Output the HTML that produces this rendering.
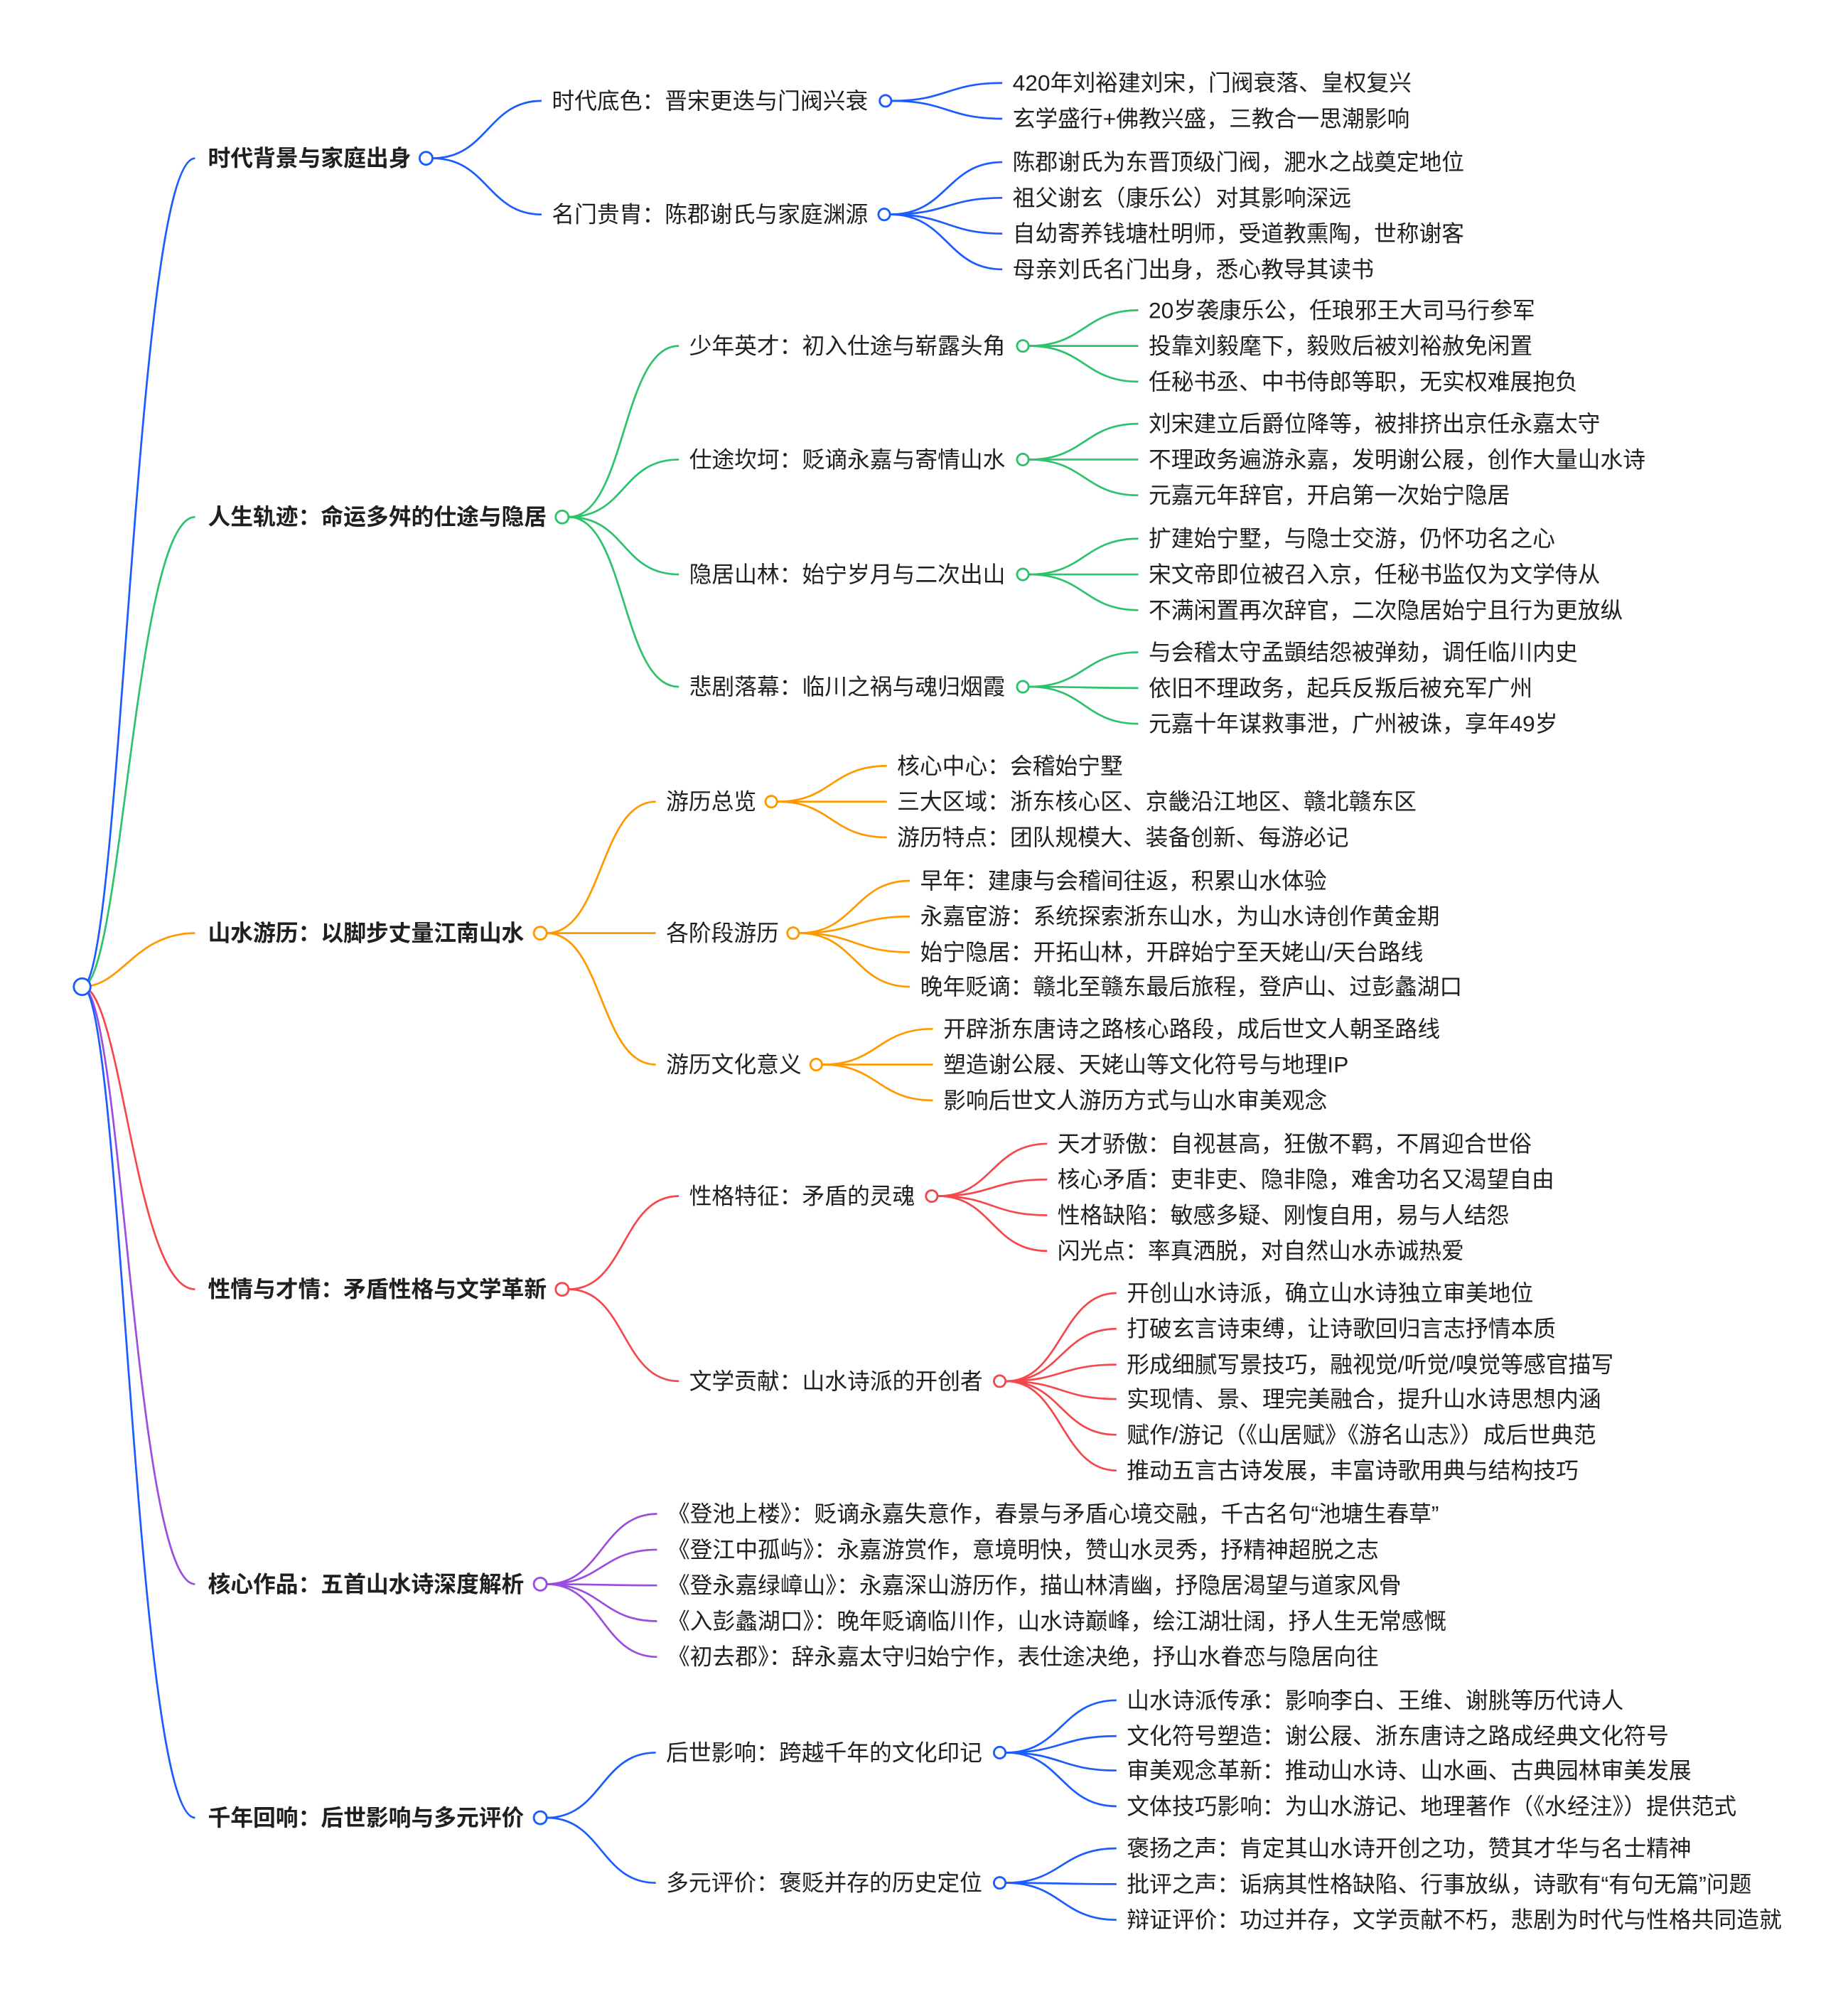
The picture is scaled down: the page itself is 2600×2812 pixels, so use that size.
<!DOCTYPE html>
<html><head><meta charset="utf-8"><style>
html,body{margin:0;padding:0;background:#fff;}
svg{display:block}
text{font-family:"Liberation Sans","Noto Sans CJK SC",sans-serif;font-size:17.6px;fill:#1f1f1f;dominant-baseline:central}
.b{font-weight:bold}
path{fill:none;stroke-width:1.5}
circle{fill:#fff;stroke-width:1.6}
</style></head><body>
<svg width="2600" height="2812" viewBox="0 0 1440 1566" preserveAspectRatio="none" xmlns="http://www.w3.org/2000/svg">
<path stroke="#1a5cff" d="M64 773 C95 773,105 124,152 124"/>
<path stroke="#2dc26b" d="M64 773 C95 773,105 405,152 405"/>
<path stroke="#ff9900" d="M64 773 C95 773,105 731,152 731"/>
<path stroke="#f5484d" d="M64 773 C95 773,105 1010,152 1010"/>
<path stroke="#9b4de0" d="M64 773 C95 773,105 1241,152 1241"/>
<path stroke="#1a5cff" d="M64 773 C95 773,105 1424,152 1424"/>
<circle cx="64" cy="773" r="6.5" stroke="#1a5cff"/>

<g stroke="#1a5cff">
<path d="M337 124 C380 124,380 79,422 79"/>
<path d="M337 124 C380 124,380 168,422 168"/>
<path d="M695 79 C738 79,738 65,781 65"/>
<path d="M695 79 C738 79,738 93,781 93"/>
<path d="M694 168 C738 168,738 127,781 127"/>
<path d="M694 168 C738 168,738 155,781 155"/>
<path d="M694 168 C738 168,738 183,781 183"/>
<path d="M694 168 C738 168,738 211,781 211"/>
</g>
<circle cx="332" cy="124" r="5" stroke="#1a5cff"/>
<circle cx="690" cy="79" r="4.5" stroke="#1a5cff"/>
<circle cx="689" cy="168" r="4.5" stroke="#1a5cff"/>
<text x="162" y="124" class="b">时代背景与家庭出身</text>
<text x="430" y="79">时代底色：晋宋更迭与门阀兴衰</text>
<text x="430" y="168">名门贵胄：陈郡谢氏与家庭渊源</text>
<text x="789" y="65">420年刘裕建刘宋，门阀衰落、皇权复兴</text>
<text x="789" y="93">玄学盛行+佛教兴盛，三教合一思潮影响</text>
<text x="789" y="127">陈郡谢氏为东晋顶级门阀，淝水之战奠定地位</text>
<text x="789" y="155">祖父谢玄（康乐公）对其影响深远</text>
<text x="789" y="183">自幼寄养钱塘杜明师，受道教熏陶，世称谢客</text>
<text x="789" y="211">母亲刘氏名门出身，悉心教导其读书</text>

<g stroke="#2dc26b">
<path d="M443 405 C488 405,484 271,529 271"/>
<path d="M443 405 C488 405,484 360,529 360"/>
<path d="M443 405 C488 405,484 450,529 450"/>
<path d="M443 405 C488 405,484 538,529 538"/>
<path d="M802 271 C845 271,845 243,887 243"/>
<path d="M802 271 C845 271,845 271,887 271"/>
<path d="M802 271 C845 271,845 299,887 299"/>
<path d="M802 360 C845 360,845 332,887 332"/>
<path d="M802 360 C845 360,845 360,887 360"/>
<path d="M802 360 C845 360,845 388,887 388"/>
<path d="M802 450 C845 450,845 422,887 422"/>
<path d="M802 450 C845 450,845 450,887 450"/>
<path d="M802 450 C845 450,845 478,887 478"/>
<path d="M802 538 C845 538,845 511,887 511"/>
<path d="M802 538 C845 538,845 539,887 539"/>
<path d="M802 538 C845 538,845 567,887 567"/>
</g>
<circle cx="438" cy="405" r="5" stroke="#2dc26b"/>
<circle cx="797" cy="271" r="4.5" stroke="#2dc26b"/>
<circle cx="797" cy="360" r="4.5" stroke="#2dc26b"/>
<circle cx="797" cy="450" r="4.5" stroke="#2dc26b"/>
<circle cx="797" cy="538" r="4.5" stroke="#2dc26b"/>
<text x="162" y="405" class="b">人生轨迹：命运多舛的仕途与隐居</text>
<text x="537" y="271">少年英才：初入仕途与崭露头角</text>
<text x="537" y="360">仕途坎坷：贬谪永嘉与寄情山水</text>
<text x="537" y="450">隐居山林：始宁岁月与二次出山</text>
<text x="537" y="538">悲剧落幕：临川之祸与魂归烟霞</text>
<text x="895" y="243">20岁袭康乐公，任琅邪王大司马行参军</text>
<text x="895" y="271">投靠刘毅麾下，毅败后被刘裕赦免闲置</text>
<text x="895" y="299">任秘书丞、中书侍郎等职，无实权难展抱负</text>
<text x="895" y="332">刘宋建立后爵位降等，被排挤出京任永嘉太守</text>
<text x="895" y="360">不理政务遍游永嘉，发明谢公屐，创作大量山水诗</text>
<text x="895" y="388">元嘉元年辞官，开启第一次始宁隐居</text>
<text x="895" y="422">扩建始宁墅，与隐士交游，仍怀功名之心</text>
<text x="895" y="450">宋文帝即位被召入京，任秘书监仅为文学侍从</text>
<text x="895" y="478">不满闲置再次辞官，二次隐居始宁且行为更放纵</text>
<text x="895" y="511">与会稽太守孟顗结怨被弹劾，调任临川内史</text>
<text x="895" y="539">依旧不理政务，起兵反叛后被充军广州</text>
<text x="895" y="567">元嘉十年谋救事泄，广州被诛，享年49岁</text>

<g stroke="#ff9900">
<path d="M426 731 C470 731,467 628,511 628"/>
<path d="M426 731 C470 731,467 731,511 731"/>
<path d="M426 731 C470 731,467 834,511 834"/>
<path d="M606 628 C648 628,648 600,691 600"/>
<path d="M606 628 C648 628,648 628,691 628"/>
<path d="M606 628 C648 628,648 656,691 656"/>
<path d="M623 731 C666 731,666 690,709 690"/>
<path d="M623 731 C666 731,666 718,709 718"/>
<path d="M623 731 C666 731,666 746,709 746"/>
<path d="M623 731 C666 731,666 773,709 773"/>
<path d="M641 834 C684 834,684 806,727 806"/>
<path d="M641 834 C684 834,684 834,727 834"/>
<path d="M641 834 C684 834,684 862,727 862"/>
</g>
<circle cx="421" cy="731" r="5" stroke="#ff9900"/>
<circle cx="601" cy="628" r="4.5" stroke="#ff9900"/>
<circle cx="618" cy="731" r="4.5" stroke="#ff9900"/>
<circle cx="636" cy="834" r="4.5" stroke="#ff9900"/>
<text x="162" y="731" class="b">山水游历：以脚步丈量江南山水</text>
<text x="519" y="628">游历总览</text>
<text x="519" y="731">各阶段游历</text>
<text x="519" y="834">游历文化意义</text>
<text x="699" y="600">核心中心：会稽始宁墅</text>
<text x="699" y="628">三大区域：浙东核心区、京畿沿江地区、赣北赣东区</text>
<text x="699" y="656">游历特点：团队规模大、装备创新、每游必记</text>
<text x="717" y="690">早年：建康与会稽间往返，积累山水体验</text>
<text x="717" y="718">永嘉宦游：系统探索浙东山水，为山水诗创作黄金期</text>
<text x="717" y="746">始宁隐居：开拓山林，开辟始宁至天姥山/天台路线</text>
<text x="717" y="773">晚年贬谪：赣北至赣东最后旅程，登庐山、过彭蠡湖口</text>
<text x="735" y="806">开辟浙东唐诗之路核心路段，成后世文人朝圣路线</text>
<text x="735" y="834">塑造谢公屐、天姥山等文化符号与地理IP</text>
<text x="735" y="862">影响后世文人游历方式与山水审美观念</text>

<g stroke="#f5484d">
<path d="M443 1010 C488 1010,484 937,529 937"/>
<path d="M443 1010 C488 1010,484 1082,529 1082"/>
<path d="M731 937 C773 937,773 896,816 896"/>
<path d="M731 937 C773 937,773 924,816 924"/>
<path d="M731 937 C773 937,773 952,816 952"/>
<path d="M731 937 C773 937,773 980,816 980"/>
<path d="M784 1082 C827 1082,827 1013,870 1013"/>
<path d="M784 1082 C827 1082,827 1041,870 1041"/>
<path d="M784 1082 C827 1082,827 1069,870 1069"/>
<path d="M784 1082 C827 1082,827 1096,870 1096"/>
<path d="M784 1082 C827 1082,827 1124,870 1124"/>
<path d="M784 1082 C827 1082,827 1152,870 1152"/>
</g>
<circle cx="438" cy="1010" r="5" stroke="#f5484d"/>
<circle cx="726" cy="937" r="4.5" stroke="#f5484d"/>
<circle cx="779" cy="1082" r="4.5" stroke="#f5484d"/>
<text x="162" y="1010" class="b">性情与才情：矛盾性格与文学革新</text>
<text x="537" y="937">性格特征：矛盾的灵魂</text>
<text x="537" y="1082">文学贡献：山水诗派的开创者</text>
<text x="824" y="896">天才骄傲：自视甚高，狂傲不羁，不屑迎合世俗</text>
<text x="824" y="924">核心矛盾：吏非吏、隐非隐，难舍功名又渴望自由</text>
<text x="824" y="952">性格缺陷：敏感多疑、刚愎自用，易与人结怨</text>
<text x="824" y="980">闪光点：率真洒脱，对自然山水赤诚热爱</text>
<text x="878" y="1013">开创山水诗派，确立山水诗独立审美地位</text>
<text x="878" y="1041">打破玄言诗束缚，让诗歌回归言志抒情本质</text>
<text x="878" y="1069">形成细腻写景技巧，融视觉/听觉/嗅觉等感官描写</text>
<text x="878" y="1096">实现情、景、理完美融合，提升山水诗思想内涵</text>
<text x="878" y="1124">赋作/游记（《山居赋》《游名山志》）成后世典范</text>
<text x="878" y="1152">推动五言古诗发展，丰富诗歌用典与结构技巧</text>

<g stroke="#9b4de0">
<path d="M426 1241 C469 1241,469 1186,512 1186"/>
<path d="M426 1241 C469 1241,469 1214,512 1214"/>
<path d="M426 1241 C469 1241,469 1242,512 1242"/>
<path d="M426 1241 C469 1241,469 1270,512 1270"/>
<path d="M426 1241 C469 1241,469 1298,512 1298"/>
</g>
<circle cx="421" cy="1241" r="5" stroke="#9b4de0"/>
<text x="162" y="1241" class="b">核心作品：五首山水诗深度解析</text>
<text x="520" y="1186">《登池上楼》：贬谪永嘉失意作，春景与矛盾心境交融，千古名句“池塘生春草”</text>
<text x="520" y="1214">《登江中孤屿》：永嘉游赏作，意境明快，赞山水灵秀，抒精神超脱之志</text>
<text x="520" y="1242">《登永嘉绿嶂山》：永嘉深山游历作，描山林清幽，抒隐居渴望与道家风骨</text>
<text x="520" y="1270">《入彭蠡湖口》：晚年贬谪临川作，山水诗巅峰，绘江湖壮阔，抒人生无常感慨</text>
<text x="520" y="1298">《初去郡》：辞永嘉太守归始宁作，表仕途决绝，抒山水眷恋与隐居向往</text>

<g stroke="#1a5cff">
<path d="M426 1424 C469 1424,468 1373,511 1373"/>
<path d="M426 1424 C469 1424,468 1475,511 1475"/>
<path d="M784 1373 C827 1373,827 1332,870 1332"/>
<path d="M784 1373 C827 1373,827 1360,870 1360"/>
<path d="M784 1373 C827 1373,827 1387,870 1387"/>
<path d="M784 1373 C827 1373,827 1415,870 1415"/>
<path d="M784 1475 C827 1475,827 1448,870 1448"/>
<path d="M784 1475 C827 1475,827 1476,870 1476"/>
<path d="M784 1475 C827 1475,827 1504,870 1504"/>
</g>
<circle cx="421" cy="1424" r="5" stroke="#1a5cff"/>
<circle cx="779" cy="1373" r="4.5" stroke="#1a5cff"/>
<circle cx="779" cy="1475" r="4.5" stroke="#1a5cff"/>
<text x="162" y="1424" class="b">千年回响：后世影响与多元评价</text>
<text x="519" y="1373">后世影响：跨越千年的文化印记</text>
<text x="519" y="1475">多元评价：褒贬并存的历史定位</text>
<text x="878" y="1332">山水诗派传承：影响李白、王维、谢朓等历代诗人</text>
<text x="878" y="1360">文化符号塑造：谢公屐、浙东唐诗之路成经典文化符号</text>
<text x="878" y="1387">审美观念革新：推动山水诗、山水画、古典园林审美发展</text>
<text x="878" y="1415">文体技巧影响：为山水游记、地理著作（《水经注》）提供范式</text>
<text x="878" y="1448">褒扬之声：肯定其山水诗开创之功，赞其才华与名士精神</text>
<text x="878" y="1476">批评之声：诟病其性格缺陷、行事放纵，诗歌有“有句无篇”问题</text>
<text x="878" y="1504">辩证评价：功过并存，文学贡献不朽，悲剧为时代与性格共同造就</text>
</svg>
</body></html>
